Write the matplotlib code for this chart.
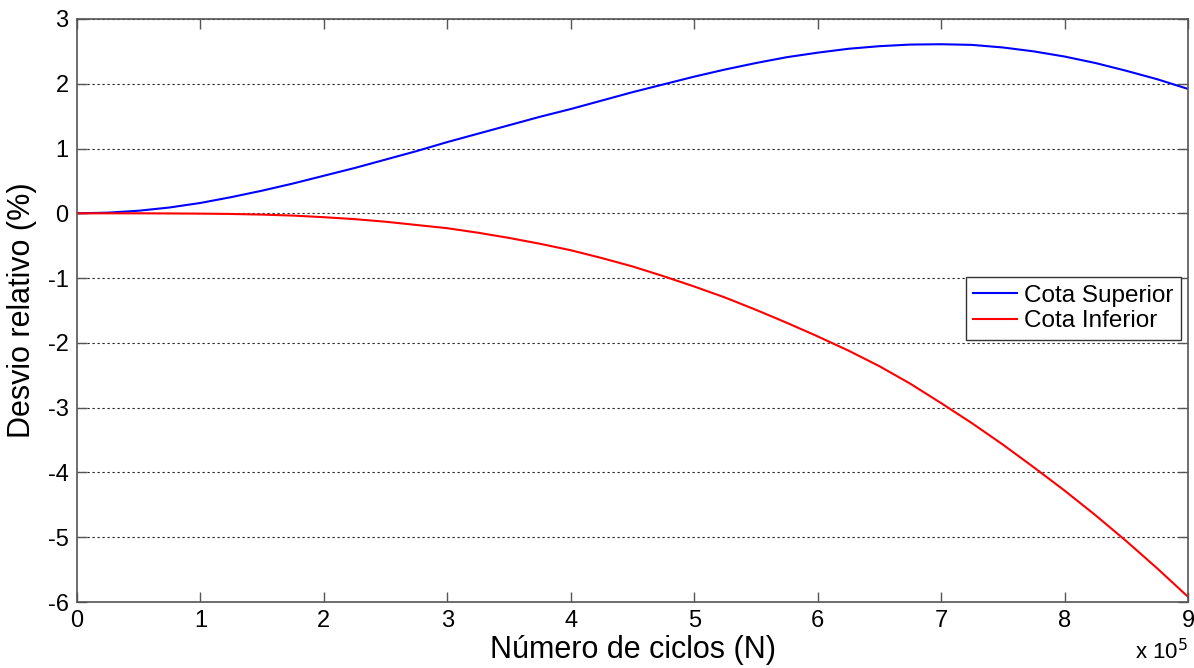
import numpy as np
import matplotlib
matplotlib.use("Agg")
from matplotlib import pyplot as plt
from matplotlib.ticker import FuncFormatter, MultipleLocator

# numero de ciclos (x 10^5) e desvios relativos (%) das duas cotas
ciclos = np.array([0, 0.25, 0.5, 0.75, 1, 1.25, 1.5, 1.75, 2, 2.25, 2.5,
                   2.75, 3, 3.25, 3.5, 3.75, 4, 4.25, 4.5, 4.75, 5, 5.25,
                   5.5, 5.75, 6, 6.25, 6.5, 6.75, 7, 7.25, 7.5, 7.75, 8,
                   8.25, 8.5, 8.75, 9]) * 1e5
cota_sup = [0, 0.01, 0.04, 0.09, 0.16, 0.25, 0.35, 0.46, 0.58, 0.70, 0.83,
            0.96, 1.1, 1.23, 1.36, 1.49, 1.61, 1.74, 1.87, 1.99, 2.11, 2.22,
            2.32, 2.41, 2.48, 2.54, 2.58, 2.605, 2.61, 2.60, 2.56, 2.50,
            2.42, 2.32, 2.2, 2.07, 1.92]
cota_inf = [0, 0, 0, -0.002, -0.005, -0.01, -0.02, -0.035, -0.06, -0.09,
            -0.13, -0.18, -0.23, -0.3, -0.38, -0.47, -0.57, -0.69, -0.82,
            -0.97, -1.13, -1.3, -1.49, -1.69, -1.9, -2.12, -2.36, -2.63,
            -2.93, -3.24, -3.57, -3.92, -4.28, -4.66, -5.06, -5.48, -5.92]

plt.rcParams['font.family'] = ['Liberation Sans', 'DejaVu Sans']

fig = plt.figure(figsize=(11.94, 6.68), dpi=100)
ax = fig.add_axes([0.0645, 0.0988, 0.9305, 0.8728])

ax.plot(ciclos, cota_sup, color='#0000ff', lw=1.5, label='Cota Superior')
ax.plot(ciclos, cota_inf, color='#ff0000', lw=1.5, label='Cota Inferior')

ax.set_xlim(0, 9e5)
ax.set_ylim(-6, 3)
ax.xaxis.set_major_locator(MultipleLocator(1e5))
ax.yaxis.set_major_locator(MultipleLocator(1))
ax.xaxis.set_major_formatter(FuncFormatter(lambda v, p: '%d' % round(v / 1e5)))
ax.yaxis.set_major_formatter(FuncFormatter(lambda v, p: '%d' % v))

ax.yaxis.grid(True, color='#222222', linestyle=(0, (2, 2.5)), lw=0.8)
ax.set_axisbelow(True)

ax.tick_params(direction='in', length=7, width=1, color='#555555',
               top=True, right=True, labelsize=17, pad=6)
for s in ax.spines.values():
    s.set_color('#555555')
    s.set_linewidth(1.2)

ax.set_xlabel('Número de ciclos (N)', fontsize=22, labelpad=2)
ax.set_ylabel('Desvio relativo (%)', fontsize=22, labelpad=8)
fig.text(0.951, 0.005, 'x 10$^5$', fontsize=16, ha='left', va='bottom')

leg = ax.legend(loc='upper left', bbox_to_anchor=(0.8, 0.557),
                borderaxespad=0, fontsize=17.5, handlelength=1.8,
                handletextpad=0.3, borderpad=0.3, labelspacing=0.15,
                fancybox=False, framealpha=1)
leg.get_frame().set_edgecolor('#333333')
leg.get_frame().set_linewidth(1)

fig.savefig('out.png', dpi=100)
